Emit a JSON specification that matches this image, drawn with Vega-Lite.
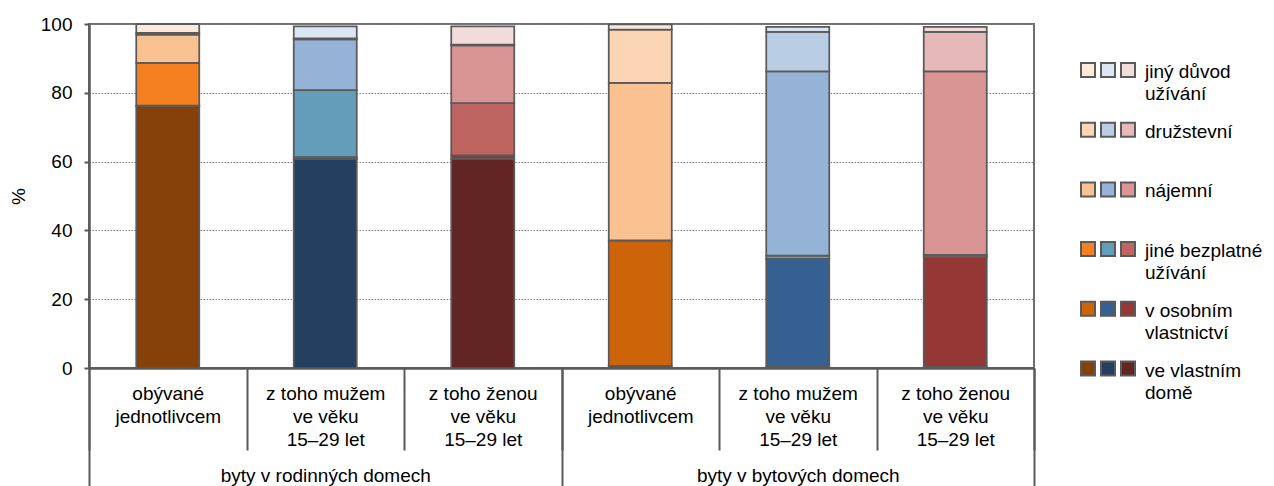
{
  "$schema": "https://vega.github.io/schema/vega-lite/v6.json",
  "padding": {"left": 8, "top": 14, "right": 0, "bottom": 0},
  "background": "white",
  "config": {
    "font": "Liberation Sans",
    "view": {"stroke": "#6f6f6f", "strokeWidth": 2},
    "text": {"color": "#000000"}
  },
  "datasets": {
    "hodnoty": [
      {"skupina": "byty v rodinných domech", "sloupec": "byty v rodinných domech|obývané\njednotlivcem", "osoba": "jednotlivec", "kategorie": "ve vlastním\ndomě", "rada": "jednotlivec – ve vlastním domě", "hodnota": 76.1},
      {"skupina": "byty v rodinných domech", "sloupec": "byty v rodinných domech|obývané\njednotlivcem", "osoba": "jednotlivec", "kategorie": "v osobním\nvlastnictví", "rada": "jednotlivec – v osobním vlastnictví", "hodnota": 0.2},
      {"skupina": "byty v rodinných domech", "sloupec": "byty v rodinných domech|obývané\njednotlivcem", "osoba": "jednotlivec", "kategorie": "jiné bezplatné\nužívání", "rada": "jednotlivec – jiné bezplatné užívání", "hodnota": 12.4},
      {"skupina": "byty v rodinných domech", "sloupec": "byty v rodinných domech|obývané\njednotlivcem", "osoba": "jednotlivec", "kategorie": "nájemní", "rada": "jednotlivec – nájemní", "hodnota": 8.2},
      {"skupina": "byty v rodinných domech", "sloupec": "byty v rodinných domech|obývané\njednotlivcem", "osoba": "jednotlivec", "kategorie": "družstevní", "rada": "jednotlivec – družstevní", "hodnota": 0.5},
      {"skupina": "byty v rodinných domech", "sloupec": "byty v rodinných domech|obývané\njednotlivcem", "osoba": "jednotlivec", "kategorie": "jiný důvod\nužívání", "rada": "jednotlivec – jiný důvod užívání", "hodnota": 2.6},

      {"skupina": "byty v rodinných domech", "sloupec": "byty v rodinných domech|z toho mužem\nve věku\n15–29 let", "osoba": "muž 15–29", "kategorie": "ve vlastním\ndomě", "rada": "muž 15–29 – ve vlastním domě", "hodnota": 60.8},
      {"skupina": "byty v rodinných domech", "sloupec": "byty v rodinných domech|z toho mužem\nve věku\n15–29 let", "osoba": "muž 15–29", "kategorie": "v osobním\nvlastnictví", "rada": "muž 15–29 – v osobním vlastnictví", "hodnota": 0.5},
      {"skupina": "byty v rodinných domech", "sloupec": "byty v rodinných domech|z toho mužem\nve věku\n15–29 let", "osoba": "muž 15–29", "kategorie": "jiné bezplatné\nužívání", "rada": "muž 15–29 – jiné bezplatné užívání", "hodnota": 19.5},
      {"skupina": "byty v rodinných domech", "sloupec": "byty v rodinných domech|z toho mužem\nve věku\n15–29 let", "osoba": "muž 15–29", "kategorie": "nájemní", "rada": "muž 15–29 – nájemní", "hodnota": 14.7},
      {"skupina": "byty v rodinných domech", "sloupec": "byty v rodinných domech|z toho mužem\nve věku\n15–29 let", "osoba": "muž 15–29", "kategorie": "družstevní", "rada": "muž 15–29 – družstevní", "hodnota": 0.3},
      {"skupina": "byty v rodinných domech", "sloupec": "byty v rodinných domech|z toho mužem\nve věku\n15–29 let", "osoba": "muž 15–29", "kategorie": "jiný důvod\nužívání", "rada": "muž 15–29 – jiný důvod užívání", "hodnota": 3.5},

      {"skupina": "byty v rodinných domech", "sloupec": "byty v rodinných domech|z toho ženou\nve věku\n15–29 let", "osoba": "žena 15–29", "kategorie": "ve vlastním\ndomě", "rada": "žena 15–29 – ve vlastním domě", "hodnota": 60.8},
      {"skupina": "byty v rodinných domech", "sloupec": "byty v rodinných domech|z toho ženou\nve věku\n15–29 let", "osoba": "žena 15–29", "kategorie": "v osobním\nvlastnictví", "rada": "žena 15–29 – v osobním vlastnictví", "hodnota": 1.0},
      {"skupina": "byty v rodinných domech", "sloupec": "byty v rodinných domech|z toho ženou\nve věku\n15–29 let", "osoba": "žena 15–29", "kategorie": "jiné bezplatné\nužívání", "rada": "žena 15–29 – jiné bezplatné užívání", "hodnota": 15.2},
      {"skupina": "byty v rodinných domech", "sloupec": "byty v rodinných domech|z toho ženou\nve věku\n15–29 let", "osoba": "žena 15–29", "kategorie": "nájemní", "rada": "žena 15–29 – nájemní", "hodnota": 16.8},
      {"skupina": "byty v rodinných domech", "sloupec": "byty v rodinných domech|z toho ženou\nve věku\n15–29 let", "osoba": "žena 15–29", "kategorie": "družstevní", "rada": "žena 15–29 – družstevní", "hodnota": 0.2},
      {"skupina": "byty v rodinných domech", "sloupec": "byty v rodinných domech|z toho ženou\nve věku\n15–29 let", "osoba": "žena 15–29", "kategorie": "jiný důvod\nužívání", "rada": "žena 15–29 – jiný důvod užívání", "hodnota": 5.3},

      {"skupina": "byty v bytových domech", "sloupec": "byty v bytových domech|obývané\njednotlivcem", "osoba": "jednotlivec", "kategorie": "ve vlastním\ndomě", "rada": "jednotlivec – ve vlastním domě", "hodnota": 0.6},
      {"skupina": "byty v bytových domech", "sloupec": "byty v bytových domech|obývané\njednotlivcem", "osoba": "jednotlivec", "kategorie": "v osobním\nvlastnictví", "rada": "jednotlivec – v osobním vlastnictví", "hodnota": 36.5},
      {"skupina": "byty v bytových domech", "sloupec": "byty v bytových domech|obývané\njednotlivcem", "osoba": "jednotlivec", "kategorie": "jiné bezplatné\nužívání", "rada": "jednotlivec – jiné bezplatné užívání", "hodnota": 0.0},
      {"skupina": "byty v bytových domech", "sloupec": "byty v bytových domech|obývané\njednotlivcem", "osoba": "jednotlivec", "kategorie": "nájemní", "rada": "jednotlivec – nájemní", "hodnota": 45.8},
      {"skupina": "byty v bytových domech", "sloupec": "byty v bytových domech|obývané\njednotlivcem", "osoba": "jednotlivec", "kategorie": "družstevní", "rada": "jednotlivec – družstevní", "hodnota": 15.5},
      {"skupina": "byty v bytových domech", "sloupec": "byty v bytových domech|obývané\njednotlivcem", "osoba": "jednotlivec", "kategorie": "jiný důvod\nužívání", "rada": "jednotlivec – jiný důvod užívání", "hodnota": 1.5},

      {"skupina": "byty v bytových domech", "sloupec": "byty v bytových domech|z toho mužem\nve věku\n15–29 let", "osoba": "muž 15–29", "kategorie": "ve vlastním\ndomě", "rada": "muž 15–29 – ve vlastním domě", "hodnota": 0.3},
      {"skupina": "byty v bytových domech", "sloupec": "byty v bytových domech|z toho mužem\nve věku\n15–29 let", "osoba": "muž 15–29", "kategorie": "v osobním\nvlastnictví", "rada": "muž 15–29 – v osobním vlastnictví", "hodnota": 31.4},
      {"skupina": "byty v bytových domech", "sloupec": "byty v bytových domech|z toho mužem\nve věku\n15–29 let", "osoba": "muž 15–29", "kategorie": "jiné bezplatné\nužívání", "rada": "muž 15–29 – jiné bezplatné užívání", "hodnota": 1.0},
      {"skupina": "byty v bytových domech", "sloupec": "byty v bytových domech|z toho mužem\nve věku\n15–29 let", "osoba": "muž 15–29", "kategorie": "nájemní", "rada": "muž 15–29 – nájemní", "hodnota": 53.5},
      {"skupina": "byty v bytových domech", "sloupec": "byty v bytových domech|z toho mužem\nve věku\n15–29 let", "osoba": "muž 15–29", "kategorie": "družstevní", "rada": "muž 15–29 – družstevní", "hodnota": 11.5},
      {"skupina": "byty v bytových domech", "sloupec": "byty v bytových domech|z toho mužem\nve věku\n15–29 let", "osoba": "muž 15–29", "kategorie": "jiný důvod\nužívání", "rada": "muž 15–29 – jiný důvod užívání", "hodnota": 1.5},

      {"skupina": "byty v bytových domech", "sloupec": "byty v bytových domech|z toho ženou\nve věku\n15–29 let", "osoba": "žena 15–29", "kategorie": "ve vlastním\ndomě", "rada": "žena 15–29 – ve vlastním domě", "hodnota": 0.3},
      {"skupina": "byty v bytových domech", "sloupec": "byty v bytových domech|z toho ženou\nve věku\n15–29 let", "osoba": "žena 15–29", "kategorie": "v osobním\nvlastnictví", "rada": "žena 15–29 – v osobním vlastnictví", "hodnota": 31.9},
      {"skupina": "byty v bytových domech", "sloupec": "byty v bytových domech|z toho ženou\nve věku\n15–29 let", "osoba": "žena 15–29", "kategorie": "jiné bezplatné\nužívání", "rada": "žena 15–29 – jiné bezplatné užívání", "hodnota": 0.7},
      {"skupina": "byty v bytových domech", "sloupec": "byty v bytových domech|z toho ženou\nve věku\n15–29 let", "osoba": "žena 15–29", "kategorie": "nájemní", "rada": "žena 15–29 – nájemní", "hodnota": 53.3},
      {"skupina": "byty v bytových domech", "sloupec": "byty v bytových domech|z toho ženou\nve věku\n15–29 let", "osoba": "žena 15–29", "kategorie": "družstevní", "rada": "žena 15–29 – družstevní", "hodnota": 11.5},
      {"skupina": "byty v bytových domech", "sloupec": "byty v bytových domech|z toho ženou\nve věku\n15–29 let", "osoba": "žena 15–29", "kategorie": "jiný důvod\nužívání", "rada": "žena 15–29 – jiný důvod užívání", "hodnota": 1.5}
    ]
  },
  "hconcat": [
    {
      "width": 945,
      "height": 344,
      "data": {"name": "hodnoty"},
      "transform": [
        {"window": [{"op": "row_number", "as": "poradi"}], "groupby": ["sloupec"]}
      ],
      "layer": [
        {
          "mark": {"type": "bar", "width": {"band": 0.4}, "stroke": "#5a5a5a", "strokeWidth": 1.75},
          "encoding": {
            "x": {
              "field": "sloupec", "type": "nominal", "sort": null,
              "scale": {"paddingInner": 0, "paddingOuter": 0},
              "axis": {
                "orient": "bottom", "title": null, "grid": false,
                "domainColor": "#595959", "domainWidth": 2.5,
                "tickBand": "extent", "tickSize": 82, "tickColor": "#595959", "tickWidth": 2,
                "labelExpr": "datum.label ? split(split(datum.label, '|')[1], '\\n') : ''",
                "labelFontSize": 19, "labelLineHeight": 23, "labelPadding": -65.5,
                "labelBaseline": "top", "labelAngle": 0, "labelColor": "#000000", "labelLimit": 300
              }
            },
            "y": {
              "field": "hodnota", "type": "quantitative", "stack": "zero",
              "scale": {"domain": [0, 100], "nice": false},
              "axis": {
                "values": [0, 20, 40, 60, 80, 100],
                "grid": true, "gridColor": "#7f7f7f", "gridWidth": 1, "gridDash": [1.5, 1.5],
                "domainColor": "#595959", "domainWidth": 2.5,
                "tickColor": "#595959", "tickSize": 5, "tickWidth": 2,
                "labelPadding": 12, "labelFontSize": 19, "labelColor": "#000000",
                "title": "%", "titleFontSize": 19, "titleFontWeight": "normal", "titleColor": "#000000", "titlePadding": 12
              }
            },
            "color": {
              "field": "rada", "type": "nominal", "legend": null,
              "scale": {
                "domain": [
                  "jednotlivec – ve vlastním domě", "jednotlivec – v osobním vlastnictví", "jednotlivec – jiné bezplatné užívání", "jednotlivec – nájemní", "jednotlivec – družstevní", "jednotlivec – jiný důvod užívání",
                  "muž 15–29 – ve vlastním domě", "muž 15–29 – v osobním vlastnictví", "muž 15–29 – jiné bezplatné užívání", "muž 15–29 – nájemní", "muž 15–29 – družstevní", "muž 15–29 – jiný důvod užívání",
                  "žena 15–29 – ve vlastním domě", "žena 15–29 – v osobním vlastnictví", "žena 15–29 – jiné bezplatné užívání", "žena 15–29 – nájemní", "žena 15–29 – družstevní", "žena 15–29 – jiný důvod užívání"
                ],
                "range": [
                  "#86400A", "#CD640A", "#F5801F", "#FAC191", "#FCD5B4", "#FDE9D9",
                  "#243F60", "#376092", "#639DBA", "#95B3D7", "#B9CDE5", "#DCE6F2",
                  "#632523", "#953735", "#BE6461", "#D99594", "#E6B9B8", "#F2DCDB"
                ]
              }
            },
            "order": {"field": "poradi", "type": "quantitative"}
          }
        },
        {
          "mark": {"type": "bar", "opacity": 0},
          "encoding": {
            "x": {
              "field": "skupina", "type": "nominal", "sort": null,
              "scale": {"paddingInner": 0, "paddingOuter": 0},
              "axis": {
                "orient": "bottom", "title": null, "grid": false, "domain": false,
                "tickBand": "extent", "tickSize": 118, "tickColor": "#595959", "tickWidth": 2,
                "labelFontSize": 19, "labelPadding": -19.3, "labelBaseline": "top", "labelAngle": 0,
                "labelColor": "#000000", "labelLimit": 400
              }
            }
          }
        }
      ],
      "resolve": {"scale": {"x": "independent"}, "axis": {"x": "independent"}}
    },
    {
      "width": 200,
      "height": 344,
      "view": {"stroke": null},
      "data": {"name": "hodnoty"},
      "transform": [{"filter": "datum.skupina === 'byty v rodinných domech'"}],
      "layer": [
        {
          "mark": {"type": "square", "size": 196, "filled": true, "opacity": 1, "stroke": "#5a5a5a", "strokeWidth": 2},
          "encoding": {
            "x": {"field": "osoba", "type": "nominal", "sort": null, "scale": {"type": "point", "padding": 0, "range": [32, 72]}, "axis": null},
            "y": {"field": "kategorie", "type": "nominal", "sort": ["jiný důvod\nužívání", "družstevní", "nájemní", "jiné bezplatné\nužívání", "v osobním\nvlastnictví", "ve vlastním\ndomě"], "scale": {"type": "point", "padding": 0, "range": [46, 344.5]}, "axis": null},
            "color": {
              "field": "rada", "type": "nominal", "legend": null,
              "scale": {
                "domain": [
                  "jednotlivec – ve vlastním domě", "jednotlivec – v osobním vlastnictví", "jednotlivec – jiné bezplatné užívání", "jednotlivec – nájemní", "jednotlivec – družstevní", "jednotlivec – jiný důvod užívání",
                  "muž 15–29 – ve vlastním domě", "muž 15–29 – v osobním vlastnictví", "muž 15–29 – jiné bezplatné užívání", "muž 15–29 – nájemní", "muž 15–29 – družstevní", "muž 15–29 – jiný důvod užívání",
                  "žena 15–29 – ve vlastním domě", "žena 15–29 – v osobním vlastnictví", "žena 15–29 – jiné bezplatné užívání", "žena 15–29 – nájemní", "žena 15–29 – družstevní", "žena 15–29 – jiný důvod užívání"
                ],
                "range": [
                  "#86400A", "#CD640A", "#F5801F", "#FAC191", "#FCD5B4", "#FDE9D9",
                  "#243F60", "#376092", "#639DBA", "#95B3D7", "#B9CDE5", "#DCE6F2",
                  "#632523", "#953735", "#BE6461", "#D99594", "#E6B9B8", "#F2DCDB"
                ]
              }
            }
          }
        },
        {
          "transform": [{"filter": "datum.osoba === 'žena 15–29'"}],
          "mark": {"type": "text", "align": "left", "baseline": "top", "dx": 17, "dy": -7, "fontSize": 19, "lineHeight": 22, "lineBreak": "\n", "color": "#000000"},
          "encoding": {
            "x": {"field": "osoba", "type": "nominal", "sort": null, "scale": {"type": "point", "padding": 0, "range": [32, 72]}, "axis": null},
            "y": {"field": "kategorie", "type": "nominal", "sort": ["jiný důvod\nužívání", "družstevní", "nájemní", "jiné bezplatné\nužívání", "v osobním\nvlastnictví", "ve vlastním\ndomě"], "scale": {"type": "point", "padding": 0, "range": [46, 344.5]}, "axis": null},
            "text": {"field": "kategorie", "type": "nominal"}
          }
        }
      ]
    }
  ],
  "spacing": 20
}
